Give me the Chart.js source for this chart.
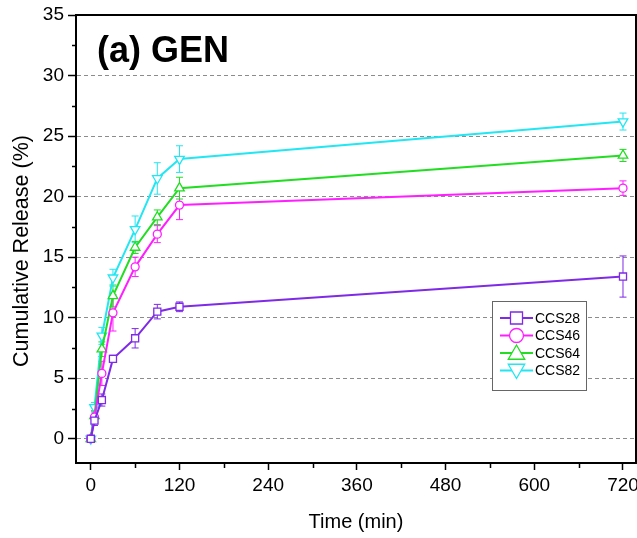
<!DOCTYPE html>
<html>
<head>
<meta charset="utf-8">
<script src="https://cdn.jsdelivr.net/npm/chart.js@4/dist/chart.umd.min.js"></script>
<style>
  html, body { margin: 0; padding: 0; background: #fff; }
  #wrap { width: 637px; height: 538px; }
</style>
</head>
<body>
<div id="wrap"><canvas id="releaseChart" width="637" height="538"></canvas></div>
<script>
var times = [0, 5, 15, 30, 60, 90, 120, 720];

var ccs28 = [0, 1.5, 3.2, 6.6, 8.3, 10.5, 10.9, 13.4];
var ccs46 = [0, 1.8, 5.4, 10.4, 14.2, 16.9, 19.3, 20.7];
var ccs64 = [0, 1.9, 7.4, 11.8, 15.8, 18.3, 20.7, 23.4];
var ccs82 = [0, 2.6, 8.5, 13.3, 17.3, 21.5, 23.1, 26.2];

var ccs28Err = [0, 0.4, 0.5, 0.3, 0.8, 0.6, 0.4, 1.7];
var ccs46Err = [0, 0.5, 1.0, 1.5, 0.8, 0.7, 1.2, 0.6];
var ccs64Err = [0, 0.4, 0.6, 0.9, 0.5, 0.6, 0.9, 0.5];
var ccs82Err = [0, 0.4, 0.7, 0.7, 1.1, 1.3, 1.1, 0.7];

var seriesNames = ['CCS28', 'CCS46', 'CCS64', 'CCS82'];
var xTicks = [0, 60, 120, 180, 240, 300, 360, 420, 480, 540, 600, 660, 720];
var yTicks = [0, 2.5, 5, 7.5, 10, 12.5, 15, 17.5, 20, 22.5, 25, 27.5, 30, 32.5, 35];

var colors = ['#7f2ae6', '#ff1eff', '#22dd22', '#22e6f2'];
var shapes = ['rect', 'circle', 'triangle', 'triangle'];
var rotations = [0, 0, 0, 180];
var radii = [5, 4, 5.5, 5.5];

var FONT = '"Liberation Sans", Arial, sans-serif';

function toPoints(values) {
    return values.map(function (v, i) { return { x: times[i], y: v }; });
}

function noPadding() {
    return { left: 0, top: 0, right: 0, bottom: 0 };
}

var allValues = [ccs28, ccs46, ccs64, ccs82];
var allErrors = [ccs28Err, ccs46Err, ccs64Err, ccs82Err];

var datasets = allValues.map(function (vals, i) {
    return {
        label: seriesNames[i],
        data: toPoints(vals),
        errors: allErrors[i],
        borderColor: colors[i],
        backgroundColor: '#fff',
        borderWidth: 2,
        pointStyle: shapes[i],
        pointRotation: rotations[i],
        pointRadius: radii[i],
        pointHoverRadius: radii[i],
        pointBorderWidth: 1.3,
        pointBackgroundColor: '#fff',
        tension: 0
    };
});

// vertical error bars with caps, placed through the chart scales
var errorBars = {
    id: 'errorBars',
    beforeDatasetsDraw: function (chart) {
        var ctx = chart.ctx;
        var xs = chart.scales.x, ys = chart.scales.y;
        chart.data.datasets.forEach(function (ds) {
            ctx.save();
            ctx.strokeStyle = ds.borderColor;
            ctx.lineWidth = 1;
            ds.data.forEach(function (p, j) {
                var e = ds.errors[j];
                if (!e) return;
                var px = xs.getPixelForValue(p.x);
                var top = ys.getPixelForValue(p.y + e);
                var bot = ys.getPixelForValue(p.y - e);
                ctx.beginPath();
                ctx.moveTo(px, top); ctx.lineTo(px, bot);
                ctx.moveTo(px - 3.5, top); ctx.lineTo(px + 3.5, top);
                ctx.moveTo(px - 3.5, bot); ctx.lineTo(px + 3.5, bot);
                ctx.stroke();
            });
            ctx.restore();
        });
    }
};

// frame, minor ticks, y title, panel label and legend box
var decorations = {
    id: 'decorations',
    afterDraw: function (chart) {
        var ctx = chart.ctx;
        var a = chart.chartArea;
        var xs = chart.scales.x, ys = chart.scales.y;
        ctx.save();
        ctx.strokeStyle = '#000';
        ctx.lineWidth = 2;
        ctx.strokeRect(a.left, a.top, a.right - a.left, a.bottom - a.top);

        // minor ticks (shorter than the major ones)
        ctx.lineWidth = 1.5;
        ctx.beginPath();
        yTicks.forEach(function (v) {
            if (v % 5 === 0) return;
            var py = Math.round(ys.getPixelForValue(v)) + 0.5;
            ctx.moveTo(a.left - 4, py); ctx.lineTo(a.left, py);
        });
        xTicks.forEach(function (v) {
            if (v % 120 === 0) return;
            var px = Math.round(xs.getPixelForValue(v)) + 0.5;
            ctx.moveTo(px, a.bottom); ctx.lineTo(px, a.bottom + 5);
        });
        ctx.stroke();

        // y axis title
        ctx.save();
        ctx.translate(22, 251);
        ctx.rotate(-Math.PI / 2);
        ctx.fillStyle = '#000';
        ctx.font = '21.5px ' + FONT;
        ctx.textAlign = 'center';
        ctx.textBaseline = 'middle';
        ctx.fillText('Cumulative Release (%)', 0, 0);
        ctx.restore();

        ctx.fillStyle = '#000';
        ctx.font = 'bold 36px ' + FONT;
        ctx.textBaseline = 'alphabetic';
        ctx.textAlign = 'left';
        ctx.fillText('(a) GEN', 97, 62);

        // legend
        var lx = 492, ly = 301, lw = 94, lh = 89;
        ctx.fillStyle = '#fff';
        ctx.fillRect(lx, ly, lw, lh);
        ctx.strokeStyle = '#666';
        ctx.lineWidth = 1;
        ctx.strokeRect(lx + 0.5, ly + 0.5, lw, lh);
        ctx.font = '14px ' + FONT;
        ctx.textBaseline = 'middle';
        var legendRadii = [8.5, 7, 9.5, 9.5];
        chart.data.datasets.forEach(function (ds, i) {
            var yy = ly + 17 + i * 17.5;
            ctx.strokeStyle = ds.borderColor;
            ctx.lineWidth = 2;
            ctx.beginPath();
            ctx.moveTo(lx + 8, yy); ctx.lineTo(lx + 41, yy);
            ctx.stroke();
            ctx.fillStyle = '#fff';
            ctx.lineWidth = 1.3;
            Chart.helpers.drawPoint(ctx, {
                pointStyle: ds.pointStyle,
                rotation: ds.pointRotation,
                radius: legendRadii[i],
                borderWidth: 1.3
            }, lx + 24.5, yy + (i === 3 ? -1.5 : (i === 2 ? 1.5 : 0)));
            ctx.fillStyle = '#000';
            ctx.fillText(ds.label, lx + 43, yy + 1);
        });
        ctx.restore();
    }
};

var ctx = document.getElementById('releaseChart').getContext('2d');
var myChart = new Chart(ctx, {
    type: 'line',
    data: { datasets: datasets },
    options: {
        responsive: false,
        animation: false,
        layout: { autoPadding: false, padding: { top: 15, right: 1, left: 0, bottom: 0 } },
        plugins: {
            legend: { display: false },
            tooltip: { enabled: false }
        },
        scales: {
            x: {
                type: 'linear',
                min: -20,
                max: 737.6,
                afterBuildTicks: function (scale) {
                    scale.ticks = xTicks.map(function (v) { return { value: v }; });
                },
                afterFit: function (scale) {
                    scale.height = 75;
                    scale.paddingLeft = 0;
                    scale.paddingRight = 0;
                    scale.getPadding = noPadding;
                },
                ticks: {
                    autoSkip: false,
                    maxRotation: 0,
                    padding: 4,
                    color: '#000',
                    font: { family: FONT, size: 19 },
                    callback: function (v) { return v % 120 === 0 ? String(v) : ''; }
                },
                grid: {
                    drawOnChartArea: false,
                    drawTicks: true,
                    tickLength: 7,
                    tickWidth: 1.5,
                    tickColor: function (c) {
                        return c.tick && c.tick.value % 120 === 0 ? '#000' : 'rgba(0,0,0,0)';
                    }
                },
                border: { display: true, color: '#000', width: 2 },
                title: {
                    display: true,
                    text: 'Time (min)',
                    color: '#000',
                    font: { family: FONT, size: 20 },
                    padding: { top: 10, bottom: 4 }
                }
            },
            y: {
                type: 'linear',
                min: -2,
                max: 35,
                afterBuildTicks: function (scale) {
                    scale.ticks = yTicks.map(function (v) { return { value: v }; });
                },
                afterFit: function (scale) {
                    scale.width = 76;
                    scale.paddingTop = 0;
                    scale.paddingBottom = 0;
                    scale.getPadding = noPadding;
                },
                ticks: {
                    autoSkip: false,
                    padding: 4,
                    color: '#000',
                    font: { family: FONT, size: 19 },
                    callback: function (v) { return v % 5 === 0 ? String(v) : ''; }
                },
                grid: {
                    drawTicks: true,
                    tickLength: 8,
                    tickWidth: 1.5,
                    tickColor: function (c) {
                        return c.tick && c.tick.value % 5 === 0 ? '#000' : 'rgba(0,0,0,0)';
                    },
                    lineWidth: 1,
                    color: function (c) {
                        var v = c.tick ? c.tick.value : null;
                        return (v !== null && v % 5 === 0 && v < 35) ? '#8c8c8c' : 'rgba(0,0,0,0)';
                    }
                },
                border: { display: true, color: '#000', width: 2, dash: [4, 3] },
                title: { display: false }
            }
        }
    },
    plugins: [errorBars, decorations]
});
</script>
</body>
</html>
